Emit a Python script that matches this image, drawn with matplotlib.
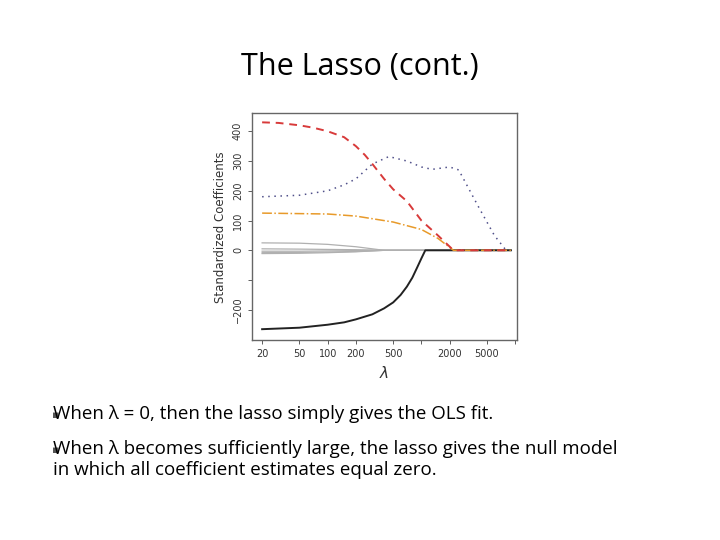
import matplotlib
matplotlib.use("Agg")
import matplotlib.pyplot as plt

red_x = [20, 30, 50, 70, 100, 150, 200, 250, 300, 400, 500, 700, 1000, 1500, 2200, 9000]
red_y = [430, 428, 420, 412, 400, 380, 350, 320, 290, 240, 205, 165, 100, 50, 0, 0]
blue_x = [20, 50, 100, 150, 200, 300, 450, 700, 1000, 1300, 2000, 2500, 4000, 6000, 8000]
blue_y = [180, 185, 200, 220, 240, 290, 315, 300, 280, 272, 280, 270, 150, 50, 0]
orange_x = [20, 100, 200, 500, 1000, 1500, 2200, 9000]
orange_y = [125, 122, 115, 95, 70, 40, 0, 0]
black_x = [20, 50, 100, 150, 200, 300, 400, 500, 600, 700, 800, 900, 1000, 1100, 9000]
black_y = [-265, -260, -250, -242, -232, -215, -195, -175, -150, -122, -92, -58, -27, 0, 0]
gray_x = [20, 50, 100, 200, 300, 400, 9000]
gray_ys = [[25, 24, 20, 12, 5, 0, 0],
           [5, 4, 3, 2, 1, 0, 0],
           [-3, -3, -2, -1, 0, 0, 0],
           [-8, -7, -6, -4, -2, 0, 0],
           [-11, -10, -8, -5, -2, 0, 0]]
xticks = [20, 50, 100, 200, 500, 1000, 2000, 5000, 10000]
xlabels = ["20", "50", "100", "200", "500", "", "2000", "5000", ""]
yticks = [-200, -100, 0, 100, 200, 300, 400]
ylabels = ["−200", "", "0", "100", "200", "300", "400"]
bullets = ["When λ = 0, then the lasso simply gives the OLS fit.",
           "When λ becomes sufficiently large, the lasso gives the null model\nin which all coefficient estimates equal zero."]

fig = plt.figure(figsize=(7.2, 5.4), dpi=100)
fig.text(0.5, 0.875, "The Lasso (cont.)", ha="center", va="center", fontsize=22, family="Open Sans")

ax = fig.add_axes([0.35, 0.37, 0.368, 0.42])
for gy in gray_ys:
    ax.plot(gray_x, gy, color="#b0b0b0", lw=0.9)
ax.plot(black_x, black_y, color="#222222", lw=1.4)
ax.plot(orange_x, orange_y, color="#e89a2a", lw=1.1, ls="-.")
ax.plot(red_x, red_y, color="#d83a3a", lw=1.4, ls=(0, (4, 3)))
ax.plot(blue_x, blue_y, color="#50508a", lw=1.1, ls=(0, (1, 3)))
ax.set_xscale("log")
ax.set_xlim(15.6, 10450)
ax.set_ylim(-302, 460)
ax.set_xticks(xticks)
ax.set_xticklabels(xlabels, fontsize=7)
ax.minorticks_off()
ax.set_yticks(yticks)
ax.set_yticklabels(ylabels, fontsize=7, rotation=90, va="center")
ax.tick_params(length=3, width=0.6, color="#444444", labelcolor="#333333")
for s in ax.spines.values():
    s.set_color("#666666")
    s.set_linewidth(1.0)
ax.set_ylabel("Standardized Coefficients", fontsize=8.5, color="#333333")
ax.set_xlabel("$\\lambda$", fontsize=11, color="#333333")

fs = 13.5
ys = [0.232, 0.167]
for y, t in zip(ys, bullets):
    fig.text(0.072, y, "▪", fontsize=8, va="center", color="#555555")
    fig.text(0.073 + 0.0, y, "", fontsize=fs)
    fig.text(0.0735, y + 0.016, t, fontsize=fs, va="top", family="Open Sans",
             linespacing=1.25, x=0.0735) if False else fig.text(0.0735, y + 0.018, t, fontsize=fs, va="top", family="Open Sans", linespacing=1.2)

fig.savefig("out.png", dpi=100)
